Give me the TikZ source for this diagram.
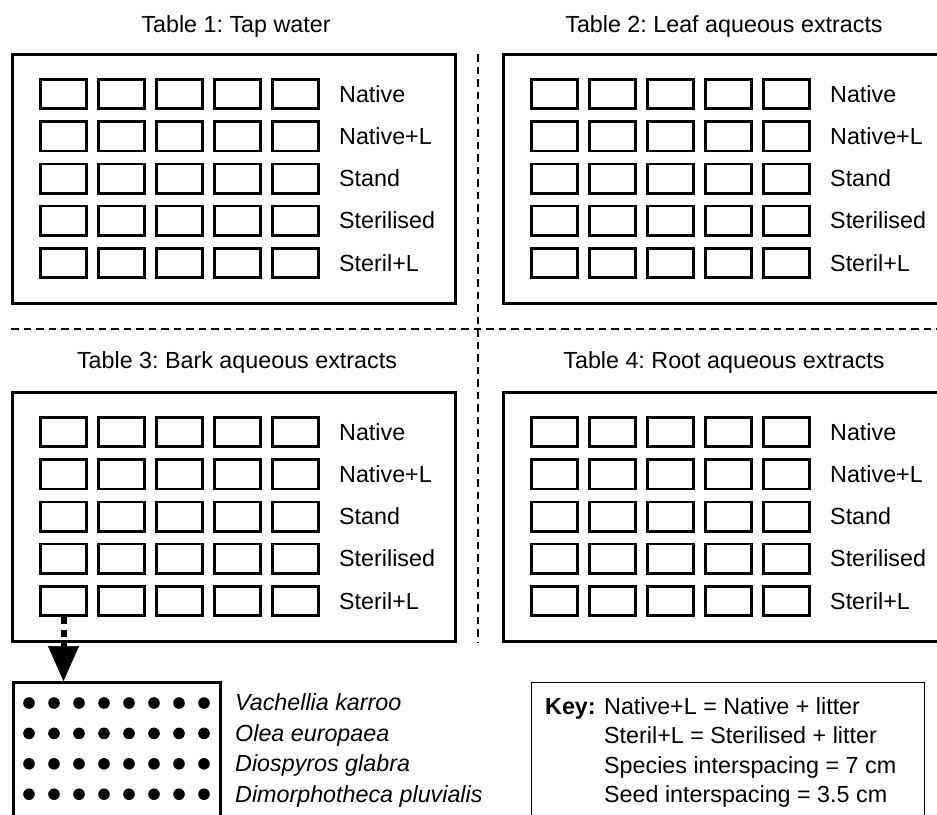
\documentclass[tikz,border=0pt]{standalone}
\usepackage{fontspec}
\setmainfont{Liberation Sans}
\usetikzlibrary{arrows.meta}
\frenchspacing
\begin{document}
\begin{tikzpicture}[x=1pt,y=-1pt,
  cell/.style={draw,line width=2.6pt,minimum width=46.4pt,minimum height=29.4pt,inner sep=0pt,outer sep=1.3pt},
  frame/.style={draw,line width=2.6pt},
  txt/.style={inner sep=0pt,font=\fontsize{23.3}{27}\selectfont},
  itxt/.style={inner sep=0pt,font=\fontsize{23.3}{27}\selectfont\itshape},
  sep/.style={line width=2.6pt,dash pattern=on 7.5pt off 5pt}]
\useasboundingbox (0,0) rectangle (937,814);
\clip (0,0) rectangle (937,814);
% outer table frames
\draw[frame] (12.3,54.3) rectangle (455.7,303.7);
\draw[frame] (503.3,54.3) rectangle (950,303.7);
\draw[frame] (12.3,392.3) rectangle (455.7,641.7);
\draw[frame] (503.3,392.3) rectangle (950,641.7);
% titles
\node[txt,anchor=base] (title1) at (236,32) {Table 1: Tap water};
\node[txt,anchor=base] (title2) at (724,32) {Table 2: Leaf aqueous extracts};
\node[txt,anchor=base] (title3) at (237,368.5) {Table 3: Bark aqueous extracts};
\node[txt,anchor=base] (title4) at (724,368.5) {Table 4: Root aqueous extracts};
% cells
\foreach \t/\x/\y in {1/63.5/94, 2/554.5/94, 3/63.5/432, 4/554.5/432} {
  \foreach \i in {1,...,5} {
    \foreach \j in {1,...,5} {
      \node[cell] (t\t r\i c\j) at ({\x+58*(\j-1)},{\y+42.25*(\i-1)}) {};
    }
  }
}
% row labels
\foreach \t/\x/\y in {1/339/94, 2/830/94, 3/339/432, 4/830/432} {
  \foreach \lab [count=\i] in {Native,Native+L,Stand,Sterilised,Steril+L} {
    \node[txt,anchor=base west] (lab\t r\i) at (\x,{\y+42.25*(\i-1)+8.2}) {\lab};
  }
}
% separators
\draw[sep] (478,54) -- (478,643);
\draw[sep] (11,329) -- (937,329);
% seed box
\node[draw,line width=2.6pt,minimum width=207.4pt,minimum height=160pt,inner sep=0pt,anchor=north west] (seedbox) at (12,681) {};
\foreach \r in {0,...,3} {
  \foreach \k in {0,...,7} {
    \fill ({29+25*\k},{703+30.4*\r}) circle[radius=5.8pt];
  }
}
\draw[line width=6pt,dash pattern=on 7pt off 6pt,
  -{Triangle[width=31pt,length=35pt,line width=0.5pt]}]
  (t3r5c1.south) -- (t3r5c1.south |- seedbox.north);
\node[itxt,anchor=base west] (sp1) at (235,710.5) {Vachellia karroo};
\node[itxt,anchor=base west] (sp2) at (235,741) {Olea europaea};
\node[itxt,anchor=base west] (sp3) at (235,771.5) {Diospyros glabra};
\node[itxt,anchor=base west] (sp4) at (235,802) {Dimorphotheca pluvialis};
% key box
\node[draw,line width=1.3pt,minimum width=392.8pt,minimum height=160pt,inner sep=0pt,anchor=north west] (keybox) at (531,682) {};
\node[txt,anchor=base west] (k0) at (545,714) {\textbf{Key:}};
\node[txt,anchor=base west] (k1) at (604,714) {Native+L = Native + litter};
\node[txt,anchor=base west] (k2) at (604,743.5) {Steril+L = Sterilised + litter};
\node[txt,anchor=base west] (k3) at (604,773) {Species interspacing = 7 cm};
\node[txt,anchor=base west] (k4) at (604,802) {Seed interspacing = 3.5 cm};
\end{tikzpicture}
\end{document}
